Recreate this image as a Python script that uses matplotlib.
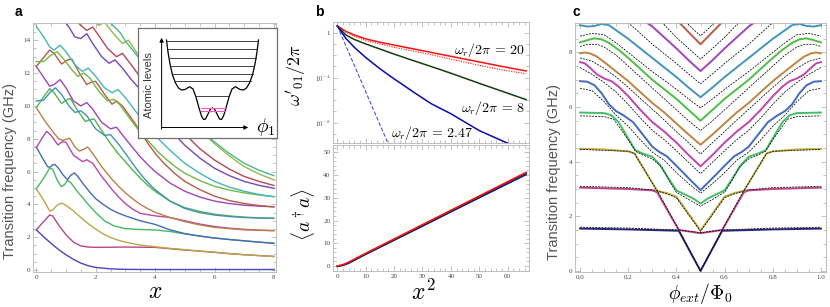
import colorsys
import numpy as np
import matplotlib
matplotlib.use("Agg")
import matplotlib.pyplot as plt
from matplotlib.ticker import MultipleLocator, FixedLocator, NullFormatter, FuncFormatter

plt.rcParams['mathtext.fontset'] = 'cm'
plt.rcParams['font.family'] = 'Liberation Serif'

# ---------------- panel a : transition frequencies vs x (traced points)
a_c0 = [(0, 2.45), (0.25, 2.02), (0.5, 1.62), (0.75, 1.25), (1, 0.93), (1.25, 0.65), (1.5, 0.42),
        (1.75, 0.26), (2, 0.16), (2.5, 0.07), (3, 0.04), (4, 0.03), (6, 0.03), (8, 0.03)]
a_c1 = [(0, 2.45), (0.25, 2.95), (0.45, 3.35), (0.55, 3.3), (0.75, 2.75), (1, 2.15), (1.25, 1.7),
        (1.5, 1.47), (1.75, 1.4), (2, 1.38), (3, 1.4), (4, 1.38), (4.5, 1.3), (5, 1.22), (5.5, 1.15),
        (6, 1.08), (6.5, 1.0), (7, 0.93), (7.5, 0.88), (8, 0.83)]
a_c2 = [(0, 4.95), (0.25, 4.25), (0.45, 3.6), (0.55, 3.65), (0.7, 3.95), (0.85, 4.08), (1.0, 3.95),
        (1.25, 3.6), (1.5, 3.2), (1.75, 2.82), (2, 2.5), (2.25, 2.2), (2.5, 1.98), (2.75, 1.82), (3, 1.7),
        (3.5, 1.52), (4, 1.42), (4.5, 1.32), (5, 1.24), (5.5, 1.16), (6, 1.08), (6.5, 1.0), (7, 0.94),
        (7.5, 0.88), (8, 0.82)]
a_c3 = [(0, 4.95), (0.25, 5.6), (0.45, 6.2), (0.55, 6.15), (0.7, 5.5), (0.84, 5.08), (0.95, 5.2),
        (1.05, 5.45), (1.15, 5.35), (1.4, 4.75), (1.75, 4.0), (2, 3.5), (2.3, 3.0), (2.6, 2.7),
        (3, 2.52), (3.5, 2.47), (4, 2.44), (4.5, 2.35), (5, 2.2), (5.5, 2.07), (6, 1.95), (6.5, 1.86),
        (7, 1.78), (7.5, 1.7), (8, 1.63)]
a_c4 = [(0, 7.5), (0.2, 6.85), (0.38, 6.3), (0.45, 6.25), (0.55, 6.4), (0.62, 6.44), (0.75, 6.2),
        (0.9, 5.8), (1.05, 5.5), (1.15, 5.75), (1.28, 5.92), (1.4, 5.7), (1.6, 5.2), (1.8, 4.75), (2, 4.35),
        (2.25, 4.0), (2.5, 3.7), (2.75, 3.48), (3, 3.3), (3.5, 3.0), (4, 2.78), (4.5, 2.45), (5, 2.22),
        (5.5, 2.07), (6, 1.95), (6.5, 1.86), (7, 1.78), (7.5, 1.7), (8, 1.63)]
a_c5 = [(0, 7.45), (0.2, 8.05), (0.35, 8.45), (0.5, 8.2), (0.73, 7.62), (0.88, 7.82), (1.0, 7.78),
        (1.25, 7.0), (1.56, 6.6), (1.7, 6.72), (1.9, 6.5), (2.2, 5.7), (2.6, 4.8), (2.8, 4.4), (3.0, 4.05),
        (3.25, 3.7), (3.5, 3.45), (4.0, 3.3), (4.5, 3.2), (5, 3.0), (5.5, 2.8), (6, 2.65), (6.5, 2.55),
        (7, 2.48), (7.5, 2.43), (8, 2.4)]
a_c6 = [(0, 9.9), (0.3, 9.05), (0.55, 8.45), (0.75, 8.0), (0.9, 7.9), (1.12, 8.03), (1.3, 7.5),
        (1.45, 7.25), (1.6, 7.35), (1.73, 7.5), (1.9, 7.1), (2.2, 6.3), (2.56, 5.5), (2.8, 5.05), (3, 4.7),
        (3.25, 4.33), (3.5, 4.0), (3.75, 3.74), (4, 3.52), (4.5, 3.2), (5, 2.95), (5.5, 2.75), (6, 2.6),
        (6.5, 2.52), (7, 2.45), (7.5, 2.42), (8, 2.4)]
a_c7 = [(0, 9.9), (0.25, 10.55), (0.45, 11.05), (0.6, 10.8), (0.85, 10.15), (1.05, 10.4), (1.15, 10.45),
        (1.4, 9.7), (1.65, 9.05), (1.8, 9.15), (1.95, 9.2), (2.2, 8.5), (2.5, 7.7), (2.75, 7.1), (3, 6.6),
        (3.25, 6.08), (3.5, 5.6), (3.75, 5.17), (4, 4.8), (4.5, 4.2), (5, 3.8), (5.5, 3.57), (6, 3.4),
        (6.5, 3.3), (7, 3.22), (7.5, 3.18), (8, 3.15)]
a_c8 = [(0, 10.3), (0.25, 10.35), (0.5, 10.9), (0.65, 11.1), (0.85, 10.7), (1.1, 10.0), (1.3, 9.6),
        (1.5, 9.7), (1.7, 9.4), (2.0, 8.6), (2.3, 8.2), (2.5, 8.25), (2.8, 7.6), (3.0, 7.1), (3.2, 6.6),
        (3.4, 6.1), (3.6, 5.65), (3.8, 5.25), (4, 4.9), (4.5, 4.2), (5, 3.75), (5.5, 3.5), (6, 3.35),
        (6.5, 3.26), (7, 3.2), (7.5, 3.17), (8, 3.15)]
a_c9 = [(0, 12.4), (0.3, 11.6), (0.45, 11.2), (0.6, 11.3), (0.8, 11.6), (1.0, 11.1), (1.25, 10.3),
        (1.5, 10.0), (1.7, 10.2), (1.9, 9.8), (2.2, 9.0), (2.5, 8.6), (2.7, 8.7), (3.0, 8.0), (3.25, 7.45),
        (3.5, 6.9), (3.75, 6.43), (4, 6.0), (4.5, 5.3), (5, 4.8), (5.5, 4.45), (6, 4.2), (6.5, 4.05),
        (7, 3.95), (7.5, 3.89), (8, 3.85)]
a_c10 = [(0, 12.4), (0.25, 12.95), (0.45, 13.4), (0.6, 13.2), (0.85, 12.55), (1.05, 12.8), (1.2, 12.85),
         (1.45, 12.0), (1.7, 11.3), (1.85, 11.45), (2.0, 11.5), (2.3, 10.7), (2.55, 10.1), (2.7, 10.3),
         (2.9, 10.0), (3.3, 9.0), (3.55, 8.3), (3.8, 7.6), (4.05, 7.0), (4.3, 6.5), (4.65, 5.9), (5, 5.4),
         (5.5, 4.9), (6, 4.5), (6.5, 4.23), (7, 4.05), (7.5, 3.93), (8, 3.85)]
a_c11 = [(0, 12.7), (0.25, 12.7), (0.5, 13.1), (0.7, 13.3), (0.9, 12.9), (1.2, 12.2), (1.4, 11.8),
         (1.6, 12.0), (1.8, 11.7), (2.1, 10.9), (2.4, 10.3), (2.6, 10.4), (2.8, 10.1), (3.2, 9.1),
         (3.5, 8.4), (3.8, 7.8), (4.1, 7.2), (4.4, 6.7), (4.7, 6.27), (5, 5.9), (5.5, 5.45), (6, 5.1),
         (6.5, 4.87), (7, 4.7), (7.5, 4.57), (8, 4.47)]
a_c12 = [(0, 14.85), (0.25, 14.2), (0.45, 13.6), (0.6, 13.4), (0.8, 13.7), (1.0, 13.3), (1.3, 12.5),
         (1.55, 12.1), (1.75, 12.3), (2.0, 11.8), (2.3, 11.1), (2.55, 10.8), (2.75, 11.0), (3.0, 10.5),
         (3.25, 9.9), (3.5, 9.3), (3.75, 8.73), (4, 8.2), (4.5, 7.3), (5, 6.5), (5.5, 5.9), (6, 5.4),
         (6.5, 5.05), (7, 4.8), (7.5, 4.6), (8, 4.47)]
a_c13 = [(0.9, 15.3), (1.1, 14.8), (1.3, 14.2), (1.5, 14.1), (1.7, 14.4), (1.9, 13.8), (2.2, 13.0),
         (2.45, 12.6), (2.65, 12.8), (2.9, 12.3), (3.2, 11.6), (3.5, 11.0), (3.75, 10.4), (4, 9.8),
         (4.25, 9.2), (4.5, 8.6), (4.75, 8.08), (5, 7.6), (5.5, 6.83), (6, 6.2), (6.5, 5.75), (7, 5.4),
         (7.5, 5.16), (8, 4.98)]
a_c14 = [(1.3, 15.3), (1.5, 14.9), (1.7, 14.6), (1.9, 14.8), (2.1, 14.3), (2.4, 13.5), (2.7, 13.0),
         (2.9, 13.2), (3.2, 12.5), (3.6, 11.5), (4, 10.6), (4.25, 10.0), (4.5, 9.4), (4.75, 8.83),
         (5, 8.3), (5.5, 7.4), (6, 6.7), (6.5, 6.15), (7, 5.7), (7.5, 5.4), (8, 5.15)]
a_c15 = [(1.9, 15.3), (2.1, 14.9), (2.3, 15.1), (2.6, 14.4), (2.9, 13.8), (3.1, 14.0), (3.4, 13.2),
         (3.8, 12.2), (4.3, 11.0), (4.65, 10.2), (5, 9.5), (5.5, 8.55), (6, 7.7), (6.5, 6.95), (7, 6.3),
         (7.5, 5.85), (8, 5.49)]
a_c16 = [(2.4, 15.2), (2.7, 14.7), (2.85, 14.4), (3.0, 13.95), (3.2, 13.5), (3.6, 12.6), (4, 11.7),
         (4.5, 10.5), (5, 9.4), (5.5, 8.55), (6, 7.8), (6.5, 7.1), (7, 6.5), (7.5, 6.08), (8, 5.75)]
a_curves = [a_c0, a_c1, a_c2, a_c3, a_c4, a_c5, a_c6, a_c7, a_c8, a_c9, a_c10,
            a_c11, a_c12, a_c13, a_c14, a_c15, a_c16]

# inset sketch of the potential (inset pixel units), left half, mirrored about x = 212.5
pot_x = [166.5, 168, 170, 172.5, 175.5, 178.5, 181.5, 185, 189.5, 193, 196, 199, 201.5, 203.5, 205.5, 208, 210.5, 212.5]
pot_y = [40, 52, 64, 75, 83, 88, 90, 89.5, 86.7, 89, 97, 108, 116, 119.5, 119, 114, 109, 108]
lev_y = [40.5, 49.3, 58, 66, 74.2, 80.8, 95.5]
lev_x0 = [166.7, 168, 169.5, 171, 172.5, 174, 196.3]
pink_y = [107.5, 110.5]
pink_x0 = [200.5, 200.8]

# ---------------- panel b : renormalised qubit frequency (log10 read-offs) and photon number
b_x = [0, 3, 6, 10, 15, 20, 27, 33, 40, 50, 58, 66.5]
b_red_log = [0.6, 0.12, -0.2, -0.55, -0.85, -1.1, -1.45, -1.75, -2.1, -2.6, -3.0, -3.4]
b_red_dot_log = [0.6, 0.05, -0.3, -0.7, -1.0, -1.3, -1.65, -1.95, -2.35, -2.9, -3.3, -3.65]
b_green_log = [0.6, -0.2, -0.6, -1.0, -1.45, -1.9, -2.5, -3.0, -3.6, -4.5, -5.2, -5.95]
b_blue_log = [0.6, -0.5, -1.3, -2.2, -3.2, -4.1, -5.3, -6.3, -7.2, -8.7, -9.6, -10.5]
b_blue_dash_x = [0, 18.5]
b_blue_dash_log = [0.6, -10.2]
b_labels = [r'$\omega_r/2\pi\,=\,20$', r'$\omega_r/2\pi\,=\,8$', r'$\omega_r/2\pi\,=\,2.47$']

n_x = [0, 2, 4, 6, 10, 20, 30, 40, 50, 60, 66.5]
n_red = [0, 0.6, 1.7, 3.0, 5.6, 11.9, 18.2, 24.5, 30.8, 37.1, 41.2]
n_green = [-0.1, 0.45, 1.5, 2.8, 5.4, 11.6, 17.9, 24.2, 30.5, 36.8, 40.8]
n_blue = [-0.2, 0.25, 1.2, 2.5, 5.1, 11.3, 17.5, 23.8, 30.0, 36.2, 40.2]

# ---------------- panel c : spectrum vs flux, half curves (0 .. 0.5), mirrored
c_col = [
    ([0, 0.2, 0.41, 0.5], [1.55, 1.52, 1.47, 0.0]),
    ([0, 0.2, 0.3, 0.32, 0.41, 0.5], [3.05, 3.0, 2.95, 2.88, 1.5, 1.38]),
    ([0, 0.1, 0.2, 0.226, 0.32, 0.36, 0.4, 0.5], [4.47, 4.45, 4.38, 4.3, 2.93, 2.85, 2.72, 1.48]),
    ([0, 0.1, 0.13, 0.16, 0.2, 0.23, 0.26, 0.3, 0.33, 0.37, 0.4, 0.44, 0.47, 0.5],
     [5.8, 5.78, 5.7, 5.45, 4.85, 4.42, 4.3, 4.18, 3.9, 3.35, 2.95, 2.78, 2.65, 2.47]),
    ([0, 0.03, 0.06, 0.09, 0.12, 0.15, 0.18, 0.22, 0.26, 0.3, 0.33, 0.36, 0.4, 0.45, 0.5],
     [6.95, 6.93, 6.8, 6.5, 6.1, 5.85, 5.7, 5.45, 5.0, 4.55, 4.35, 4.2, 3.85, 3.4, 2.96]),
    ([0, 0.02, 0.04, 0.07, 0.1, 0.13, 0.16, 0.2, 0.25, 0.3, 0.35, 0.4, 0.45, 0.5],
     [7.65, 7.6, 7.45, 7.2, 7.05, 6.95, 6.75, 6.4, 5.9, 5.45, 5.1, 4.7, 4.25, 3.83]),
    ([0, 0.02, 0.04, 0.07, 0.1, 0.15, 0.2, 0.25, 0.3, 0.35, 0.4, 0.45, 0.5],
     [7.97, 8.0, 7.97, 7.85, 7.65, 7.3, 6.95, 6.55, 6.15, 5.8, 5.4, 5.0, 4.62]),
    ([0, 0.03, 0.06, 0.09, 0.12, 0.16, 0.2, 0.25, 0.3, 0.35, 0.4, 0.45, 0.5],
     [8.37, 8.45, 8.52, 8.48, 8.35, 8.1, 7.8, 7.4, 7.0, 6.65, 6.3, 5.9, 5.5]),
    ([0, 0.03, 0.06, 0.09, 0.12, 0.16, 0.2, 0.25, 0.3, 0.35, 0.4, 0.45, 0.5],
     [9.0, 8.95, 8.97, 9.05, 9.0, 8.75, 8.5, 8.15, 7.8, 7.45, 7.1, 6.72, 6.36]),
    ([0.26, 0.3, 0.35, 0.4, 0.45, 0.5], [9.2, 8.95, 8.55, 8.15, 7.72, 7.32]),
    ([0.4, 0.45, 0.5], [9.2, 8.75, 8.3]),
]
c_dash = [
    ([0, 0.2, 0.41, 0.5], [1.6, 1.57, 1.5, 0.0]),
    ([0, 0.2, 0.32, 0.41, 0.5], [3.1, 3.05, 2.95, 1.5, 1.4]),
    ([0, 0.2, 0.226, 0.32, 0.36, 0.4, 0.5], [4.45, 4.38, 4.3, 2.93, 2.82, 2.68, 1.45]),
    ([0, 0.1, 0.14, 0.2, 0.23, 0.26, 0.3, 0.34, 0.37, 0.4, 0.45, 0.5],
     [5.68, 5.65, 5.55, 4.8, 4.38, 4.25, 4.1, 3.8, 3.3, 2.88, 2.62, 2.37]),
    ([0, 0.05, 0.1, 0.15, 0.2, 0.25, 0.3, 0.35, 0.4, 0.45, 0.5],
     [6.69, 6.6, 6.2, 5.7, 5.3, 4.8, 4.35, 4.05, 3.6, 3.2, 2.85]),
    ([0, 0.05, 0.1, 0.15, 0.2, 0.25, 0.3, 0.35, 0.4, 0.45, 0.5],
     [7.45, 7.2, 6.9, 6.55, 6.1, 5.6, 5.15, 4.8, 4.4, 3.98, 3.56]),
    ([0, 0.05, 0.1, 0.15, 0.2, 0.25, 0.3, 0.35, 0.4, 0.45, 0.5],
     [7.8, 7.68, 7.42, 7.1, 6.72, 6.32, 5.92, 5.52, 5.1, 4.7, 4.28]),
    ([0, 0.03, 0.07, 0.1, 0.15, 0.2, 0.25, 0.3, 0.35, 0.4, 0.45, 0.5],
     [8.22, 8.3, 8.3, 8.2, 7.9, 7.5, 7.1, 6.7, 6.3, 5.9, 5.5, 5.14]),
    ([0, 0.05, 0.1, 0.15, 0.2, 0.25, 0.3, 0.35, 0.4, 0.45, 0.5],
     [8.6, 8.7, 8.65, 8.35, 8.0, 7.65, 7.3, 6.98, 6.65, 6.3, 5.97]),
    ([0.18, 0.25, 0.3, 0.35, 0.4, 0.45, 0.5], [9.25, 8.7, 8.3, 7.95, 7.6, 7.22, 6.85]),
    ([0.33, 0.4, 0.45, 0.5], [9.2, 8.55, 8.15, 7.76]),
    ([0.43, 0.47, 0.5], [9.2, 8.85, 8.61]),
]


def mma(k, s=0.62, v=0.72):
    return colorsys.hsv_to_rgb((0.67 + 0.236068 * k) % 1, s, v)


def px(x, y):
    return x / 830, 1 - y / 307


def frame(ax):
    for s in ax.spines.values():
        s.set_color('#b5b5b5')
        s.set_linewidth(0.6)
    ax.tick_params(which='both', direction='in', top=True, right=True, color='#aaaaaa',
                   width=0.5, labelsize=5, labelcolor='#444444', pad=2)
    ax.tick_params(which='major', length=3.5)
    ax.tick_params(which='minor', length=2)


def mirror(xs, ys):
    xs, ys = np.asarray(xs, float), np.asarray(ys, float)
    if xs[-1] == 0.5:
        return np.r_[xs, 1 - xs[::-1][1:]], np.r_[ys, ys[::-1][1:]]
    return np.r_[xs, 1 - xs[::-1]], np.r_[ys, ys[::-1]]


fig = plt.figure(figsize=(8.3, 3.07), dpi=100)

# ---- panel a
axa = fig.add_axes([33 / 830, 35 / 307, 243 / 830, 249 / 307])
for k, cur in enumerate(a_curves):
    xs, ys = zip(*cur)
    axa.plot(xs, ys, color=mma(k), lw=1.0, solid_joinstyle='round')
axa.set_xlim(-0.11, 8.07)
axa.set_ylim(-0.12, 15.05)
axa.xaxis.set_major_locator(MultipleLocator(2))
axa.xaxis.set_minor_locator(MultipleLocator(0.5))
axa.yaxis.set_major_locator(MultipleLocator(2))
axa.yaxis.set_minor_locator(MultipleLocator(0.5))
frame(axa)

ins = fig.add_axes([138 / 830, 169 / 307, 139 / 830, 110 / 307])
ins.set_xlim(138, 277)
ins.set_ylim(138, 28)
ins.set_xticks([])
ins.set_yticks([])
for s in ins.spines.values():
    s.set_color('#707070')
    s.set_linewidth(0.9)
px_full = pot_x + [425 - v for v in pot_x[::-1][1:]]
py_full = pot_y + pot_y[::-1][1:]
ins.plot(px_full, py_full, color='black', lw=0.9)
for y, x0 in zip(lev_y, lev_x0):
    ins.plot([x0, 425 - x0], [y, y], color='#222222', lw=0.6)
for y, x0 in zip(pink_y, pink_x0):
    ins.plot([x0, 425 - x0], [y, y], color='#ff55c8', lw=0.8)
ins.annotate('', xy=(161.6, 35), xytext=(161.6, 132),
             arrowprops=dict(arrowstyle='-|>', color='black', lw=0.7, mutation_scale=6))
ins.annotate('', xy=(251, 127.5), xytext=(159, 127.5),
             arrowprops=dict(arrowstyle='-|>', color='black', lw=0.7, mutation_scale=6))
ins.text(149, 85, 'Atomic levels', rotation=90, ha='center', va='center', fontsize=8,
         family='Liberation Sans', color='#333333')
ins.text(266, 127, r'$\phi_1$', ha='center', va='center', fontsize=14)

# ---- panel b (top)
axb = fig.add_axes([333 / 830, 164 / 307, 196 / 830, 121 / 307])
axb.semilogy(b_x, 10.0 ** np.array(b_red_log), color='#ff1010', lw=1.1)
axb.semilogy(b_x, 10.0 ** np.array(b_red_dot_log), color='#ff1010', lw=0.8, ls=(0, (1, 1.2)))
axb.semilogy(b_x, 10.0 ** np.array(b_green_log), color='#153d15', lw=1.1)
axb.semilogy(b_x, 10.0 ** np.array(b_blue_log), color='#0a0aa5', lw=1.1)
axb.semilogy(b_blue_dash_x, 10.0 ** np.array(b_blue_dash_log), color='#3a3ad0', lw=0.7, ls=(0, (4, 2)))
axb.set_xlim(-1.5, 67.5)
axb.set_ylim(10 ** -9.8, 10 ** 0.95)
axb.yaxis.set_major_locator(FixedLocator([1e-8, 1e-4, 1]))
axb.yaxis.set_minor_locator(FixedLocator([10.0 ** e for e in range(-10, 1)]))
axb.yaxis.set_minor_formatter(NullFormatter())
axb.yaxis.set_major_formatter(FuncFormatter(
    lambda v, p: '1' if v > 0.5 else r'$10^{%d}$' % round(np.log10(v))))
axb.xaxis.set_major_locator(MultipleLocator(10))
axb.xaxis.set_minor_locator(MultipleLocator(2))
axb.xaxis.set_major_formatter(NullFormatter())
frame(axb)
axb.text(66, 10 ** -1.55, b_labels[0], ha='right', va='center', fontsize=10)
axb.text(66, 10 ** -6.7, b_labels[1], ha='right', va='center', fontsize=10)
axb.text(19, 10 ** -8.9, b_labels[2], ha='left', va='center', fontsize=10)

# ---- panel b (bottom)
axn = fig.add_axes([333 / 830, 36 / 307, 196 / 830, 126 / 307])
axn.plot(n_x, n_blue, color='#0a0aa5', lw=1.1)
axn.plot(n_x, n_green, color='#153d15', lw=1.1)
axn.plot(n_x, n_red, color='#ff1010', lw=1.1)
axn.set_xlim(-1.5, 67.5)
axn.set_ylim(-2.2, 53.2)
axn.xaxis.set_major_locator(MultipleLocator(10))
axn.xaxis.set_minor_locator(MultipleLocator(2))
axn.yaxis.set_major_locator(MultipleLocator(10))
axn.yaxis.set_minor_locator(MultipleLocator(2))
frame(axn)

# ---- panel c
axc = fig.add_axes([575 / 830, 35 / 307, 251 / 830, 249 / 307])
for k, (xs, ys) in enumerate(c_col):
    fx, fy = mirror(xs, ys)
    col = '#262678' if k == 0 else mma(k, 0.65, 0.75)
    axc.plot(fx, fy, color=col, lw=1.4, solid_joinstyle='round')
for xs, ys in c_dash:
    fx, fy = mirror(xs, ys)
    axc.plot(fx, fy, color='black', lw=0.55, ls=(0, (2.5, 1.5)))
axc.set_xlim(-0.021, 1.021)
axc.set_ylim(-0.04, 9.08)
axc.xaxis.set_major_locator(MultipleLocator(0.2))
axc.xaxis.set_minor_locator(MultipleLocator(0.05))
axc.yaxis.set_major_locator(MultipleLocator(2))
axc.yaxis.set_minor_locator(MultipleLocator(0.5))
axc.xaxis.set_major_formatter(FuncFormatter(lambda v, p: f'{v:.1f}'))
frame(axc)

# ---- labels
lab = dict(family='Liberation Sans', color='#555555', fontsize=10.5)
fig.text(*px(10, 171), 'Transition frequency (GHz)', rotation=90, ha='center', va='center', **lab)
fig.text(*px(554, 172), 'Transition frequency (GHz)', rotation=90, ha='center', va='center', **lab)
fig.text(*px(155, 292), r'$x$', ha='center', va='center', fontsize=17)
fig.text(*px(423, 292), r'$x^2$', ha='center', va='center', fontsize=17)
fig.text(*px(700, 294), r'$\phi_{ext}/\Phi_0$', ha='center', va='center', fontsize=14)
fig.text(*px(296, 75), r"$\omega'_{01}/2\pi$", rotation=90, ha='center', va='center', fontsize=13)
fig.text(*px(303, 214), r'$\langle a^\dagger a\rangle$', rotation=90, ha='center', va='center', fontsize=14)
for t, (x, y) in zip('abc', [(18, 12), (319, 12), (576, 12)]):
    fig.text(*px(x, y), t, ha='center', va='center', fontsize=10, fontweight='bold',
             family='Liberation Sans')

fig.savefig('out.png', dpi=100)
